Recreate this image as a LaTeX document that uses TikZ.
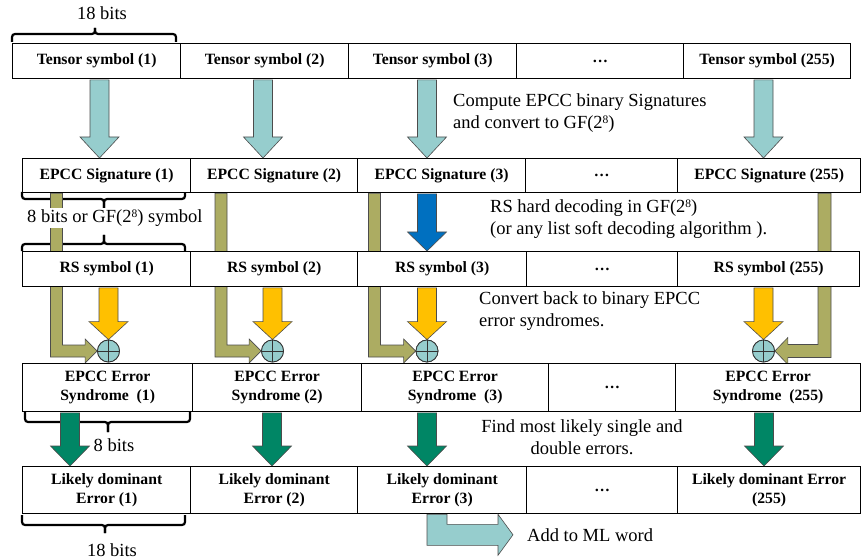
\documentclass[tikz,border=0pt]{standalone}
\usepackage{fontspec}
\setmainfont{Liberation Serif}
\usetikzlibrary{calc}
\pgfdeclarelayer{bg}
\pgfsetlayers{bg,main}
\definecolor{teal1}{RGB}{150,205,205}
\definecolor{olive1}{RGB}{172,172,98}
\definecolor{gold1}{RGB}{255,192,0}
\definecolor{blue1}{RGB}{0,112,192}
\definecolor{green1}{RGB}{0,134,101}
\newcommand{\supeight}{\raisebox{0.55ex}{\fontsize{11.5}{12}\selectfont 8}}
\tikzset{
 cell/.style={draw=black, line width=1.3pt, fill=white, rectangle, anchor=north west, inner sep=0pt, align=center, font=\fontsize{15.7}{19}\selectfont\bfseries},
 blk/.style={draw=black!70, line width=0.6pt, line join=miter},
 bracestyle/.style={draw=black, line width=2.2pt, rounded corners=3pt},
 note/.style={inner sep=0pt, align=left, anchor=west, font=\fontsize{18.5}{22}\selectfont},
 lbl/.style={inner sep=0pt, font=\fontsize{18.5}{22}\selectfont},
 xorc/.style={circle, draw=black!80, line width=0.8pt, fill=teal1, minimum size=22pt, inner sep=0pt},
}
\newcommand{\cellbox}[6]{\node[cell, minimum width={(#4-#2)*1pt}, minimum height={(#5-#3)*1pt}] (#1) at (#2,#3) {#6};}
\newcommand{\varrow}[5]{%
 \path[blk, fill=#4] let \p1=(#2.south), \p2=(#3.north) in
  ({(#1-9.5)*1pt},{\y1-0.6pt}) -- ({(#1+9.5)*1pt},{\y1-0.6pt}) -- ({(#1+9.5)*1pt},{\y2+#5*1pt}) -- ({(#1+19.5)*1pt},{\y2+#5*1pt}) -- ({#1*1pt},\y2) -- ({(#1-19.5)*1pt},{\y2+#5*1pt}) -- ({(#1-9.5)*1pt},{\y2+#5*1pt}) -- cycle;}
\newcommand{\elbowR}[3]{%
 \path[blk, fill=olive1] let \p1=(#2.south), \p2=(#3.west) in
 ({(#1-6)*1pt},\y1) -- ({(#1+6)*1pt},\y1) -- ({(#1+6)*1pt},{\y2+6pt}) -- ({\x2-12pt},{\y2+6pt}) -- ({\x2-12pt},{\y2+12pt}) -- (\x2,\y2) -- ({\x2-12pt},{\y2-12pt}) -- ({\x2-12pt},{\y2-6pt}) -- ({(#1-6)*1pt},{\y2-6pt}) -- cycle;}
\newcommand{\elbowL}[3]{%
 \path[blk, fill=olive1] let \p1=(#2.south), \p2=(#3.east) in
 ({(#1+6.5)*1pt},\y1) -- ({(#1-6.5)*1pt},\y1) -- ({(#1-6.5)*1pt},{\y2+6.5pt}) -- ({\x2+13pt},{\y2+6.5pt}) -- ({\x2+13pt},{\y2+13.5pt}) -- (\x2,\y2) -- ({\x2+13pt},{\y2-13.5pt}) -- ({\x2+13pt},{\y2-6.5pt}) -- ({(#1+6.5)*1pt},{\y2-6.5pt}) -- cycle;}
\begin{document}
\begin{tikzpicture}[x=1pt,y=-1pt]
\useasboundingbox (0,0) rectangle (863,559);
% row 1
\cellbox{t1}{12}{43}{180}{78}{Tensor symbol (1)}
\cellbox{t2}{180}{43}{348}{78}{Tensor symbol (2)}
\cellbox{t3}{348}{43}{516}{78}{Tensor symbol (3)}
\cellbox{t4}{516}{43}{683}{78}{…}
\cellbox{t5}{683}{43}{850}{78}{Tensor symbol (255)}
% row 2
\cellbox{s1}{22}{158}{190}{192}{EPCC Signature (1)}
\cellbox{s2}{190}{158}{357}{192}{EPCC Signature (2)}
\cellbox{s3}{357}{158}{525}{192}{EPCC Signature (3)}
\cellbox{s4}{525}{158}{677}{192}{…}
\cellbox{s5}{677}{158}{860}{192}{EPCC Signature (255)}
% row 3
\cellbox{r1}{22}{251}{190}{286}{RS symbol (1)}
\cellbox{r2}{190}{251}{357}{286}{RS symbol (2)}
\cellbox{r3}{357}{251}{526}{286}{RS symbol (3)}
\cellbox{r4}{526}{251}{677}{286}{…}
\cellbox{r5}{677}{251}{859}{286}{RS symbol (255)}
% row 4
\cellbox{e1}{22}{363}{192}{411}{EPCC Error\\Syndrome~ (1)}
\cellbox{e2}{192}{363}{361}{411}{EPCC Error\\Syndrome (2)}
\cellbox{e3}{361}{363}{548}{411}{EPCC Error\\Syndrome~ (3)}
\cellbox{e4}{548}{363}{675}{411}{…}
\cellbox{e5}{675}{363}{860}{411}{EPCC Error\\Syndrome~ (255)}
% row 5
\cellbox{l1}{22}{466}{190}{513}{Likely dominant\\Error (1)}
\cellbox{l2}{190}{466}{357}{513}{Likely dominant\\Error (2)}
\cellbox{l3}{357}{466}{526}{513}{Likely dominant\\Error (3)}
\cellbox{l4}{526}{466}{677}{513}{…}
\cellbox{l5}{677}{466}{860}{513}{Likely dominant Error\\(255)}
% xor circles
\node[xorc] (c1) at (108.5,351) {};
\node[xorc] (c2) at (272.5,351) {};
\node[xorc] (c3) at (427,351) {};
\node[xorc] (c4) at (763.5,351) {};
% labels
\node[lbl] (b18t) at (102,13) {18 bits};
\node[lbl, fill=white, inner sep=1.5pt, anchor=west] (gf) at (25.5,218) {8 bits or GF(2\supeight) symbol};
\node[lbl] (b8) at (114,445) {8 bits};
\node[lbl] (b18b) at (112,550) {18 bits};
\node[note] (n1) at (453,113) {Compute EPCC binary Signatures\\and convert to GF(2\supeight)};
\node[note] (n2) at (490,219) {RS hard decoding in GF(2\supeight)\\(or any list soft decoding algorithm ).};
\node[note] (n3) at (479,311.5) {Convert back to binary EPCC\\error syndromes.};
\node[note, align=center, anchor=center] (n4) at (582,437.5) {Find most likely single and\\double errors.};
\node[note] (add) at (527,535) {Add to ML word};
% background: braces and olive elbows
\begin{pgfonlayer}{bg}
\draw[bracestyle] (12,42) |- (95,34) -- (95,28);
\draw[bracestyle] (95,28) -- (95,34) -| (176,42);
\draw[bracestyle] (22,192) |- (104,199) -- (104,208);
\draw[bracestyle] (104,208) -- (104,199) -| (185,192);
\draw[bracestyle] (22,251) |- (104,244) -- (104,235);
\draw[bracestyle] (104,235) -- (104,244) -| (185,251);
\draw[bracestyle] (25,412) |- (108,422) -- (108,432);
\draw[bracestyle] (108,432) -- (108,422) -| (190,412);
\draw[bracestyle] (22,515) |- (105,525) -- (105,533);
\draw[bracestyle] (105,533) -- (105,525) -| (185,515);
\elbowR{56.5}{s1}{c1}
\elbowR{221}{s2}{c2}
\elbowR{374.5}{s3}{c3}
\elbowL{824.5}{s5}{c4}
\end{pgfonlayer}
% teal arrows
\varrow{99.5}{t1}{s1}{teal1}{21}
\varrow{263}{t2}{s2}{teal1}{21}
\varrow{427}{t3}{s3}{teal1}{21}
\varrow{763.5}{t5}{s5}{teal1}{21}
% blue arrow
\varrow{427}{s3}{r3}{blue1}{19}
% yellow arrows
\varrow{108.5}{r1}{c1}{gold1}{18}
\varrow{272.5}{r2}{c2}{gold1}{18}
\varrow{427}{r3}{c3}{gold1}{18}
\varrow{763.5}{r5}{c4}{gold1}{18}
% green arrows
\varrow{70}{e1}{l1}{green1}{20}
\varrow{272}{e2}{l2}{green1}{20}
\varrow{427}{e3}{l3}{green1}{20}
\varrow{764}{e5}{l5}{green1}{20}
% redraw circles on top
\foreach \c in {c1,c2,c3,c4}{
 \node[xorc] at (\c) {};
 \draw[black!80, line width=0.8pt] (\c.north) -- (\c.south) (\c.west) -- (\c.east);
}
% add to ML word arrow
\path[blk, fill=teal1] let \p1=(l3.south), \p2=(add.west) in
 (427pt,\y1) -- (447pt,\y1) -- (447pt,{\y1-10pt}) -- ({\x2-29pt},{\y1-10pt}) -- ({\x2-29pt},\y1) -- ({\x2-14pt},{\y1-20.5pt}) -- ({\x2-29pt},{\y1-41pt}) -- ({\x2-29pt},{\y1-31pt}) -- (427pt,{\y1-31pt}) -- cycle;
\end{tikzpicture}
\end{document}
